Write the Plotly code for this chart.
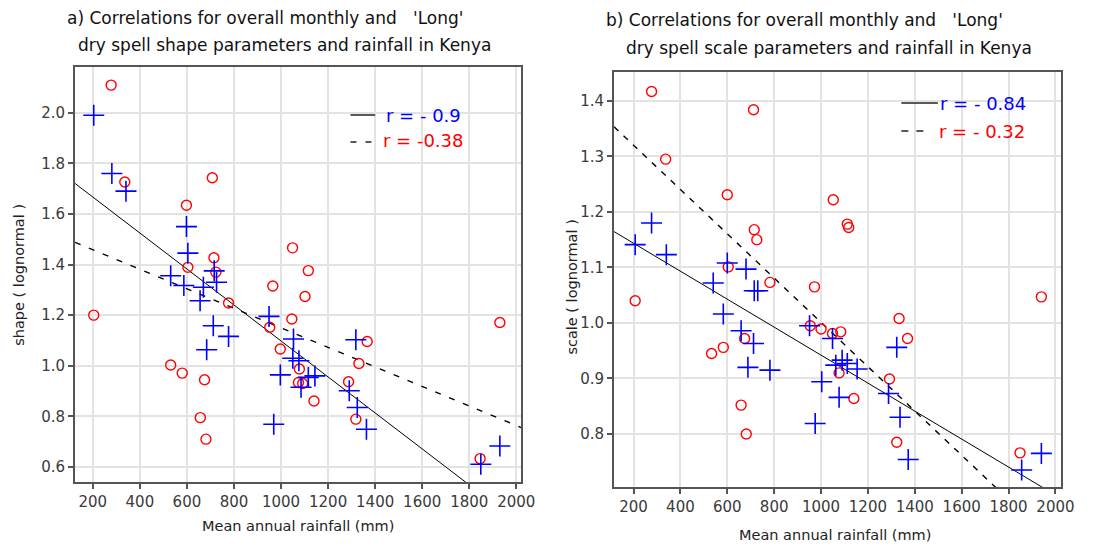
import plotly.graph_objects as go
import numpy as np

# ---------------- data ----------------
# Panel a) shape parameter vs mean annual rainfall
a_overall_rain = [204, 281, 341, 598, 604, 531, 587, 670, 726, 716, 656, 712, 777, 684, 949,
                  1053, 1050, 1076, 1085, 1116, 1144, 997, 969, 1318, 1290, 1324, 1363, 1849, 1930]
a_overall_shape = [1.99, 1.76, 1.69, 1.55, 1.445, 1.356, 1.317, 1.31, 1.33, 1.375, 1.257, 1.158, 1.116, 1.063, 1.195,
                   1.106, 1.03, 1.02, 0.915, 0.954, 0.96, 0.964, 0.769, 1.103, 0.901, 0.835, 0.749, 0.611, 0.683]
a_long_rain = [278, 336, 708, 598, 715, 723, 604, 1049, 1116, 965, 204, 777, 1102, 1046, 952, 997, 1078,
               1074, 1092, 531, 580, 675, 657, 681, 1140, 1366, 1331, 1287, 1318, 1846, 1930]
a_long_shape = [2.109, 1.726, 1.743, 1.634, 1.427, 1.37, 1.389, 1.466, 1.376, 1.315, 1.2, 1.248, 1.274, 1.185, 1.152, 1.066, 0.987,
                0.934, 0.93, 1.003, 0.971, 0.945, 0.795, 0.71, 0.861, 1.096, 1.009, 0.937, 0.789, 0.633, 1.171]

# Panel b) scale parameter vs mean annual rainfall
b_overall_rain = [207, 277, 340, 600, 680, 715, 730, 540, 583, 659, 712, 688, 782, 951, 1049, 1003, 975,
                  1063, 1090, 1112, 1154, 1077, 1323, 1288, 1337, 1372, 1856, 1940]
b_overall_scale = [1.141, 1.18, 1.123, 1.108, 1.097, 1.058, 1.058, 1.072, 1.016, 0.986, 0.963, 0.92, 0.915, 0.995, 0.972, 0.894, 0.819,
                   0.924, 0.933, 0.927, 0.917, 0.866, 0.956, 0.873, 0.83, 0.754, 0.735, 0.765]
b_long_rain = [277, 712, 337, 600, 1052, 715, 726, 604, 782, 972, 207, 1112, 1118, 1940, 533, 583, 674, 659, 681,
               954, 1000, 1049, 1084, 1077, 1140, 1333, 1369, 1292, 1323, 1849]
b_long_scale = [1.417, 1.384, 1.295, 1.231, 1.222, 1.168, 1.15, 1.101, 1.073, 1.065, 1.04, 1.178, 1.172, 1.047, 0.945, 0.956, 0.972, 0.852, 0.8,
                0.995, 0.989, 0.981, 0.984, 0.91, 0.864, 1.008, 0.972, 0.899, 0.785, 0.766]

# regression lines (intercept, slope)
a_fit_overall = [1.809, -0.000711]
a_fit_long = [1.536, -0.000386]
b_fit_overall = [1.194, -0.000252]
b_fit_long = [1.400, -0.000399]

r_labels_a = ["r = - 0.9", "r = -0.38"]
r_labels_b = ["r = - 0.84", "r = - 0.32"]

x_ticks = [200, 400, 600, 800, 1000, 1200, 1400, 1600, 1800, 2000]
a_y_ticks = [0.6, 0.8, 1.0, 1.2, 1.4, 1.6, 1.8, 2.0]
b_y_ticks = [0.8, 0.9, 1.0, 1.1, 1.2, 1.3, 1.4]

# ---------------- figure ----------------
W, H = 1098, 546
BLUE = "#0000ff"
RED = "#ff0000"
FONT = "DejaVu Sans"

a_xr = [124.5, 2021]
a_yr = [0.5407, 2.1806]
b_xr = [117, 2025]
b_yr = [0.7045, 1.452]

fig = go.Figure()

def add_panel(xa, ya, xr, fit_o, fit_l, rx_o, ry_o, rx_l, ry_l, dash):
    xs = np.array(xr)
    fig.add_trace(go.Scatter(x=xs, y=fit_o[0] + fit_o[1] * xs, mode="lines",
                             line=dict(color="black", width=1), xaxis=xa, yaxis=ya,
                             showlegend=False, hoverinfo="skip"))
    fig.add_trace(go.Scatter(x=xs, y=fit_l[0] + fit_l[1] * xs, mode="lines",
                             line=dict(color="black", width=1.4, dash=dash), xaxis=xa, yaxis=ya,
                             showlegend=False, hoverinfo="skip"))
    fig.add_trace(go.Scatter(x=rx_l, y=ry_l, mode="markers",
                             marker=dict(symbol="circle-open", size=10, color=RED, line=dict(width=1.4, color=RED)),
                             xaxis=xa, yaxis=ya, showlegend=False))
    fig.add_trace(go.Scatter(x=rx_o, y=ry_o, mode="markers",
                             marker=dict(symbol="cross-thin-open", size=15, color=BLUE, line=dict(width=1.6, color=BLUE)),
                             xaxis=xa, yaxis=ya, showlegend=False))

add_panel("x", "y", a_xr, a_fit_overall, a_fit_long, a_overall_rain, a_overall_shape,
          a_long_rain, a_long_shape, "6px,9px")
add_panel("x2", "y2", b_xr, b_fit_overall, b_fit_long, b_overall_rain, b_overall_scale,
          b_long_rain, b_long_scale, "6px,7px")

axis_common = dict(showgrid=True, gridcolor="#e3e3e3", gridwidth=1.5, zeroline=False,
                   showline=True, linecolor="#555555", linewidth=2, mirror=True,
                   ticks="outside", ticklen=5, tickcolor="#555555", tickwidth=1.5,
                   tickfont=dict(family=FONT, size=15, color="#3a3a3a"))

def px2px(x0, x1):
    return [x0 / W, x1 / W]

def py2py(ytop, ybot):
    return [1 - ybot / H, 1 - ytop / H]

fig.update_layout(
    width=W, height=H,
    margin=dict(l=0, r=0, t=0, b=0),
    paper_bgcolor="white", plot_bgcolor="white",
    xaxis=dict(domain=px2px(76, 528), range=a_xr, tickvals=x_ticks, anchor="y", **axis_common),
    yaxis=dict(domain=py2py(67, 482), range=a_yr, tickvals=a_y_ticks, tickformat=".1f", anchor="x", **axis_common),
    xaxis2=dict(domain=px2px(622, 1075), range=b_xr, tickvals=x_ticks, anchor="y2", **axis_common),
    yaxis2=dict(domain=py2py(72, 487), range=b_yr, tickvals=b_y_ticks, tickformat=".1f", anchor="x2", **axis_common),
)

anns = []
def ann(x, y, text, size=13, color="#222222", angle=0, xanchor="center"):
    anns.append(dict(x=x / W, y=1 - y / H, xref="paper", yref="paper", text=text, showarrow=False,
                     font=dict(family=FONT, size=size, color=color), textangle=angle,
                     xanchor=xanchor, yanchor="middle"))

# titles
TS = 17
ann(66, 18, "a) Correlations for overall monthly and &nbsp; 'Long'", size=TS, color="#111111", xanchor="left")
ann(77, 45, "dry spell shape parameters and rainfall in Kenya", size=TS, color="#111111", xanchor="left")
ann(612, 20, "b) Correlations for overall monthly and &nbsp; 'Long'", size=TS, color="#111111", xanchor="left")
ann(632, 48, "dry spell scale parameters and rainfall in Kenya", size=TS, color="#111111", xanchor="left")

# axis titles
ann(302, 526, "Mean annual rainfall (mm)", size=14.5)
ann(846, 535, "Mean annual rainfall (mm)", size=14.5)
ann(19, 275, "shape ( lognormal )", size=14.5, angle=-90)
ann(579, 287, "scale ( lognormal )", size=14.5, angle=-90)

# r legends
ann(389, 115, r_labels_a[0], size=18, color=BLUE, xanchor="left")
ann(386, 141, r_labels_a[1], size=18, color=RED, xanchor="left")
ann(950, 103, r_labels_b[0], size=18, color=BLUE, xanchor="left")
ann(949, 131, r_labels_b[1], size=18, color=RED, xanchor="left")

fig.update_layout(annotations=anns)

shapes = [
    dict(type="line", xref="paper", yref="paper", x0=355 / W, x1=380 / W, y0=1 - 115 / H, y1=1 - 115 / H,
         line=dict(color="#222222", width=1.5)),
    dict(type="line", xref="paper", yref="paper", x0=355 / W, x1=382 / W, y0=1 - 142 / H, y1=1 - 142 / H,
         line=dict(color="#222222", width=1.5, dash="6px,9px")),
    dict(type="line", xref="paper", yref="paper", x0=913 / W, x1=950 / W, y0=1 - 103 / H, y1=1 - 103 / H,
         line=dict(color="#222222", width=1.5)),
    dict(type="line", xref="paper", yref="paper", x0=913 / W, x1=942 / W, y0=1 - 131 / H, y1=1 - 131 / H,
         line=dict(color="#222222", width=1.5, dash="7px,8px")),
]
fig.update_layout(shapes=shapes)

fig.write_html("out.html")
